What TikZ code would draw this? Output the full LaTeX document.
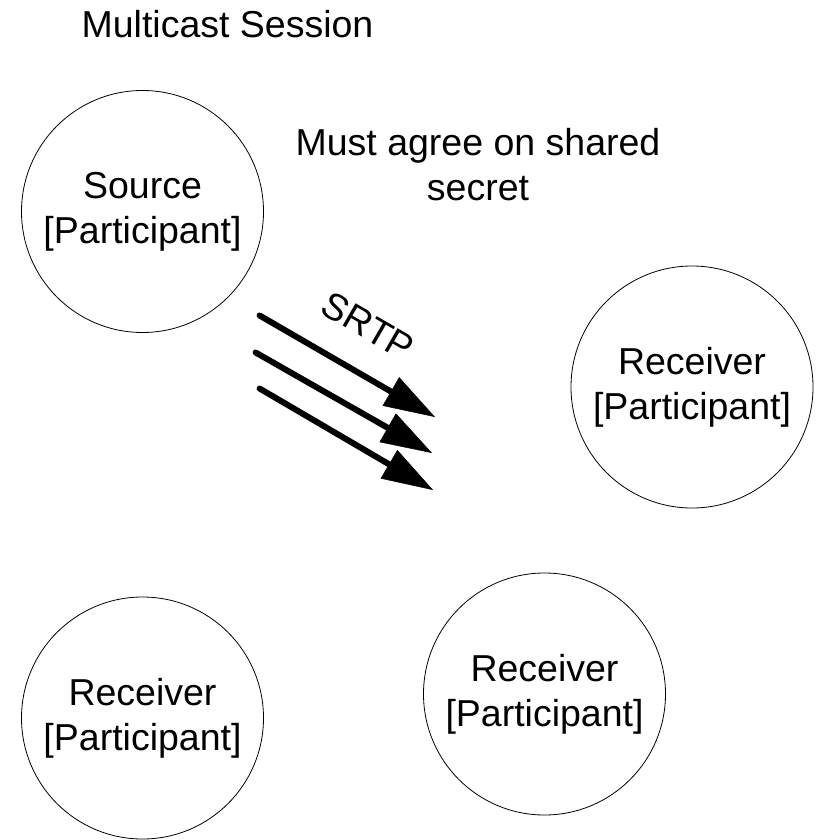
\documentclass[tikz,border=0pt]{standalone}
\usepackage{fontspec}
\setmainfont{Liberation Sans}
\usetikzlibrary{arrows.meta}

\tikzset{
  participant/.style={draw=black, line width=0.8pt, circle, minimum size=242pt,
    inner sep=0pt, align=center, font=\fontsize{37.5}{45}\selectfont},
  label text/.style={inner sep=0pt, align=center, font=\fontsize{37.5}{45}\selectfont},
  flow/.style={line width=6pt, line cap=round,
    -{Triangle[length=51pt, width=33pt, line width=0.5pt]}},
}

\begin{document}
\begin{tikzpicture}[x=1pt, y=-1pt]
  % page frame
  \useasboundingbox (0,0) rectangle (820,840);

  % titles
  \node[label text, anchor=base] (title) at (227.5,37.5) {Multicast Session};
  \node[label text] (secret) at (478,165) {Must agree on shared\\secret};

  % participants
  \node[participant] (source) at (142.5,211.5) {Source\\{}[Participant]};
  \node[participant] (recvA) at (692,387) {Receiver\\{}[Participant]};
  \node[participant] (recvB) at (544.5,694) {Receiver\\{}[Participant]};
  \node[participant] (recvC) at (142.5,718) {Receiver\\{}[Participant]};

  % SRTP packet stream
  \coordinate (t1) at (259.6,315.5);
  \coordinate (h1) at (435,417);
  \coordinate (t2) at (255.6,352.5);
  \coordinate (h2) at (432,453);
  \coordinate (t3) at (259.6,388.5);
  \coordinate (h3) at (433,490);
  \draw[flow] (t1) -- (h1);
  \draw[flow] (t2) -- (h2);
  \draw[flow] (t3) -- (h3);

  \node[label text, rotate=-30] (srtp) at (368,326) {SRTP};
\end{tikzpicture}
\end{document}
